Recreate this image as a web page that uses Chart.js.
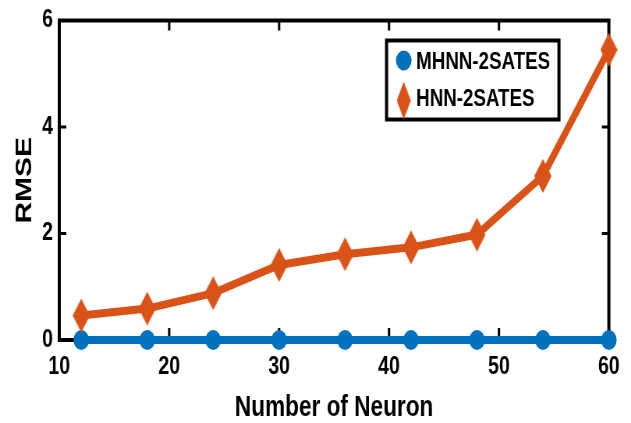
<!DOCTYPE html>
<html><head>
<script src="https://cdn.jsdelivr.net/npm/chart.js@4"></script>
<style>
html, body { margin: 0; padding: 0; background: #fff; overflow: hidden; }
/* the source figure is squeezed horizontally, so draw wide and scale down */
#wrap { width: 809px; height: 423px; transform: scaleX(0.78); transform-origin: 0 0; }
</style></head><body>
<div id="wrap"><canvas id="chart"></canvas></div>
<script>
const neurons = [12, 18, 24, 30, 36, 42, 48, 54, 60];
const mhnnRmse = [0, 0, 0, 0, 0, 0, 0, 0, 0];
const hnnRmse = [0.46, 0.59, 0.88, 1.41, 1.61, 1.74, 1.98, 3.08, 5.45];
const seriesLabels = ['MHNN-2SATES', 'HNN-2SATES'];
const xTicks = [10, 20, 30, 40, 50, 60];
const yTicks = [0, 2, 4, 6];

const BLUE = '#0072BD';
const ORANGE = '#D95319';
const FONT = '"Liberation Sans", Arial, sans-serif';

// tall diamond marker, like the matlab 'd' marker
function makeDiamond(w, h, color) {
  const c = document.createElement('canvas');
  c.width = w; c.height = h;
  const g = c.getContext('2d');
  g.fillStyle = color;
  g.beginPath();
  g.moveTo(w / 2, 0); g.lineTo(w, h / 2); g.lineTo(w / 2, h); g.lineTo(0, h / 2);
  g.closePath(); g.fill();
  return c;
}
const diamond = makeDiamond(22, 34, ORANGE);

const toPts = ys => neurons.map((x, i) => ({ x, y: ys[i] }));

// box around the axes with inward ticks on all four sides (under the lines)
const boxPlugin = {
  id: 'box',
  beforeDatasetsDraw(chart) {
    const { ctx, chartArea: a, scales } = chart;
    ctx.save();
    ctx.strokeStyle = '#000';
    ctx.lineWidth = 4;
    ctx.strokeRect(a.left, a.top, a.right - a.left, a.bottom - a.top);
    ctx.lineWidth = 3;
    ctx.beginPath();
    for (const v of xTicks.slice(1, -1)) {
      const px = scales.x.getPixelForValue(v);
      ctx.moveTo(px, a.bottom); ctx.lineTo(px, a.bottom - 12);
      ctx.moveTo(px, a.top); ctx.lineTo(px, a.top + 10);
    }
    for (const v of yTicks.slice(1, -1)) {
      const py = scales.y.getPixelForValue(v);
      ctx.moveTo(a.left, py); ctx.lineTo(a.left + 9, py);
      ctx.moveTo(a.right, py); ctx.lineTo(a.right - 9, py);
    }
    ctx.stroke();
    ctx.restore();
  }
};

// legend box inside the top right corner
const legendPlugin = {
  id: 'boxLegend',
  afterDraw(chart) {
    const { ctx, chartArea: a } = chart;
    const right = a.right - 64, top = a.top + 20;
    const w = 221, h = 79;
    const left = right - w;
    ctx.save();
    ctx.fillStyle = '#fff';
    ctx.fillRect(left, top, w, h);
    ctx.strokeStyle = '#000';
    ctx.lineWidth = 4;
    ctx.strokeRect(left, top, w, h);

    const mx = left + 22;
    const rows = [top + 21, top + 58];
    ctx.fillStyle = BLUE;
    ctx.beginPath();
    ctx.arc(mx, rows[0] - 1, 10, 0, Math.PI * 2);
    ctx.fill();
    ctx.drawImage(diamond, mx - 9, rows[1] - 17, 18, 38);

    ctx.fillStyle = '#000';
    ctx.font = 'bold 24px ' + FONT;
    ctx.textBaseline = 'middle';
    ctx.textAlign = 'left';
    ctx.fillText(seriesLabels[0], left + 38, rows[0] + 1);
    ctx.fillText(seriesLabels[1], left + 38, rows[1] + 1);
    ctx.restore();
  }
};

new Chart(document.getElementById('chart'), {
  type: 'line',
  data: {
    datasets: [
      {
        label: seriesLabels[0],
        data: toPts(mhnnRmse),
        borderColor: BLUE,
        backgroundColor: BLUE,
        borderWidth: 8,
        pointStyle: 'circle',
        pointRadius: 10,
        pointBorderWidth: 0,
        clip: false,
        order: 2,
      },
      {
        label: seriesLabels[1],
        data: toPts(hnnRmse),
        borderColor: ORANGE,
        backgroundColor: ORANGE,
        borderWidth: 8,
        pointStyle: diamond,
        clip: false,
        order: 1,
      },
    ]
  },
  options: {
    responsive: true, maintainAspectRatio: false,
    animation: false,
    layout: { padding: { top: 13, right: 24, left: 0, bottom: 0 } },
    plugins: { legend: { display: false }, tooltip: { enabled: false } },
    scales: {
      x: {
        type: 'linear', min: 10, max: 60,
        afterBuildTicks: s => { s.ticks = xTicks.map(v => ({ value: v })); },
        afterFit: s => { s.height = 83; },
        grid: { display: false, drawTicks: false, tickLength: 0 },
        border: { display: false },
        ticks: { color: '#000', padding: 14.5, maxRotation: 0, font: { family: FONT, size: 25, weight: 'bold', lineHeight: 1 } },
        title: { display: true, text: 'Number of Neuron', color: '#000', padding: { top: 0, bottom: 1 }, font: { family: FONT, size: 29, weight: 'bold', lineHeight: 1 } },
      },
      y: {
        min: 0, max: 6,
        afterBuildTicks: s => { s.ticks = yTicks.map(v => ({ value: v })); },
        afterFit: s => { s.width = 76; },
        grid: { display: false, drawTicks: false, tickLength: 0 },
        border: { display: false },
        ticks: { color: '#000', padding: 8, font: { family: FONT, size: 25, weight: 'bold', lineHeight: 1 } },
        title: { display: true, text: 'RMSE', color: '#000', padding: { top: 17, bottom: 0 }, font: { family: FONT, size: 30, weight: 'bold', lineHeight: 1 } },
      }
    }
  },
  plugins: [boxPlugin, legendPlugin]
});
</script></body></html>
